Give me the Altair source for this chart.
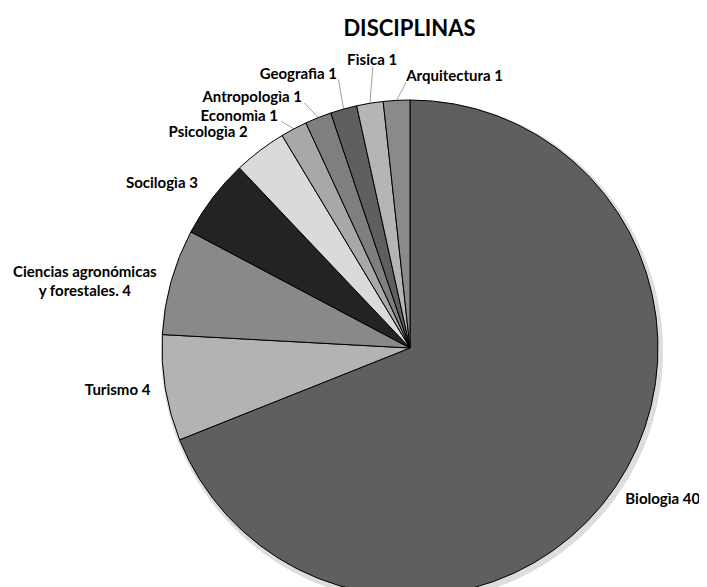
import math
import altair as alt
import pandas as pd

# ---- data ----
categories = ["Biologìa", "Turismo", "Ciencias agronómicas\ny forestales.", "Socilogìa",
              "Psicologìa", "Economìa", "Antropologìa", "Geografìa", "Fìsica", "Arquitectura"]
values = [40, 4, 4, 3, 2, 1, 1, 1, 1, 1]

# ---- styling / layout ----
colors = ["#5f5f5f", "#b3b3b3", "#898989", "#232323", "#dadada",
          "#a8a8a8", "#7f7f7f", "#5f5f5f", "#b5b5b5", "#8a8a8a"]
label_radius = [263, 263, 334, 269, 270, 267, 273, 284, 290, 272]
label_shift_deg = [0.9, 0.1, -2.3, 0.7, 0.3, -1.7, -1.6, 0.6, 1.8, 2.3]
label_align = ["left", "right", "center", "right", "right", "right", "right", "right", "center", "left"]
leader = [False, False, False, False, False, True, True, True, True, True]

CX, CY, R = 402, 290, 248
FONT = "Lato"

df = pd.DataFrame({
    "category": categories,
    "value": values,
    "order": list(range(len(values))),
    "lr": label_radius,
    "ls": label_shift_deg,
    "al": label_align,
    "leader": leader,
})

base = (
    alt.Chart(df)
    .transform_window(cum="sum(value)", sort=[alt.SortField("order")], frame=[None, 0])
    .transform_joinaggregate(total="sum(value)")
    .transform_calculate(
        mid="(datum.cum - datum.value/2) / datum.total * 2 * PI",
    )
    .transform_calculate(
        lt="datum.mid + datum.ls * PI / 180",
        label="datum.category + ' ' + datum.value",
    )
    .transform_calculate(
        x1=f"{CX} + {R} * sin(datum.mid)",
        y1=f"{CY} - {R} * cos(datum.mid)",
        x2=f"{CX} + (datum.lr - 6) * sin(datum.lt)",
        y2=f"{CY} - (datum.lr - 6) * cos(datum.lt)",
    )
)

shadow = alt.Chart(pd.DataFrame({"s": [1]})).mark_arc(
    outerRadius=R + 3, theta=0, theta2=2 * math.pi, color="#d4d4d4", opacity=0.8
).encode(x=alt.value(CX + 2), y=alt.value(CY + 3))

leaders = base.transform_filter("datum.leader").mark_rule(color="#a0a0a0", strokeWidth=1).encode(
    x=alt.X("x1:Q", scale=None),
    y=alt.Y("y1:Q", scale=None),
    x2="x2:Q",
    y2="y2:Q",
)

arcs = base.mark_arc(outerRadius=R, stroke="black", strokeWidth=1).encode(
    theta=alt.Theta("value:Q", stack=True),
    order=alt.Order("order:Q"),
    color=alt.Color("category:N", scale=alt.Scale(domain=categories, range=colors), legend=None),
    x=alt.value(CX),
    y=alt.value(CY),
)

texts = []
for al in ["left", "right", "center"]:
    texts.append(
        base.transform_filter(f"datum.al == '{al}'").mark_text(
            align=al, baseline="middle", font=FONT, fontSize=15, fontWeight="bold",
            lineBreak="\n", lineHeight=19, color="black"
        ).encode(
            theta=alt.Theta("lt:Q", scale=None, stack=False),
            radius=alt.Radius("lr:Q", scale=None),
            text="label:N",
            x=alt.value(CX),
            y=alt.value(CY),
        )
    )

chart = alt.layer(shadow, leaders, arcs, *texts).properties(
    width=691,
    height=529,
    autosize=alt.AutoSizeParams(type="none"),
    padding={"top": 50, "left": 0, "right": 0, "bottom": 0},
    title=alt.Title("DISCIPLINAS", font=FONT, fontSize=22, fontWeight="bold", color="black",
                    anchor="middle", frame="group", dx=56, dy=25, offset=20, baseline="alphabetic"),
).configure_view(stroke=None)

chart.save("out.html", embed_options={"renderer": "svg", "actions": False})
